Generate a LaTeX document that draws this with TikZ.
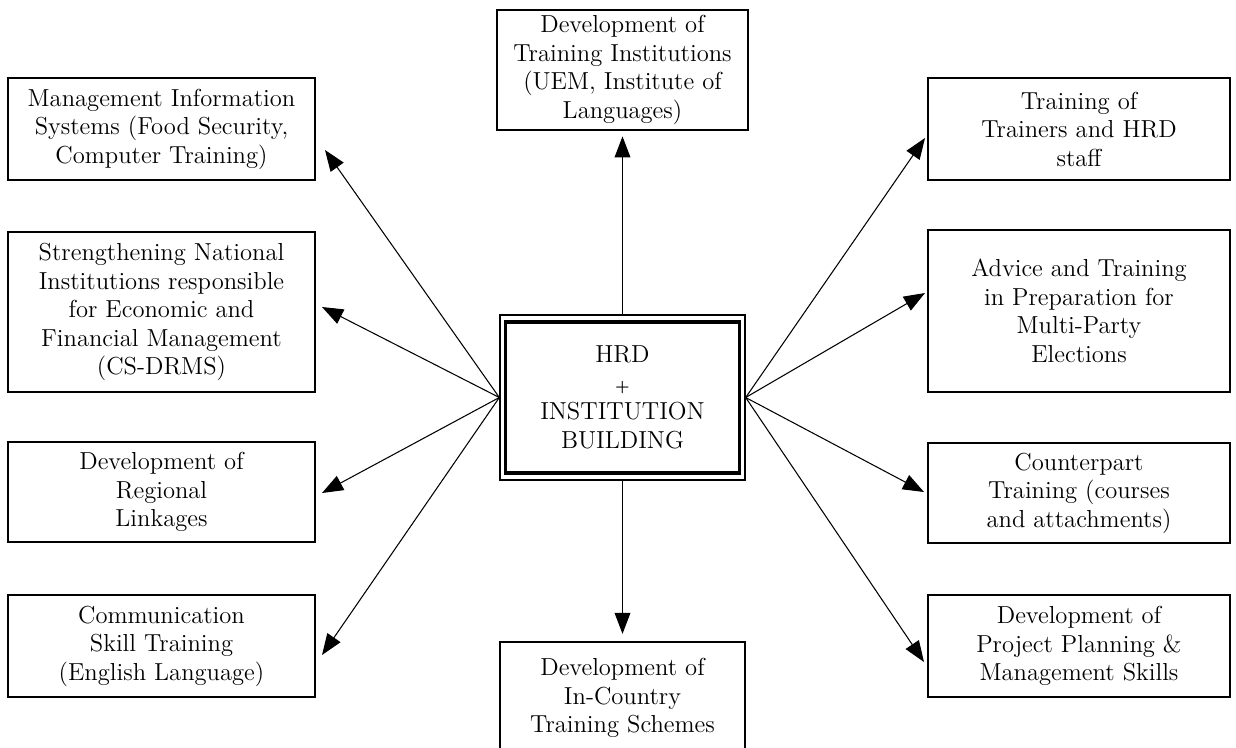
\documentclass[tikz,border=0pt]{standalone}
\usetikzlibrary{arrows.meta}
\tikzset{
  box/.style={draw, line width=1.3pt, align=center, inner sep=0pt,
    font=\fontsize{14}{16.2}\selectfont},
  link/.style={line width=0.6pt, -{Triangle[length=12pt,width=9pt]}}
}
\begin{document}
\begin{tikzpicture}[x=0.02cm, y=-0.02cm]
  \useasboundingbox (0,0) rectangle (1236,747);
  % centre box (double frame)
  \node[box, line width=0.8pt, minimum width=4.9cm, minimum height=3.3cm] (hrd) at (622.5,397.5) {};
  \node[box, line width=1.8pt, minimum width=4.68cm, minimum height=3.02cm] (hrdin) at (622.5,397.5)
    {HRD\\{\small\textbf{+}}\\INSTITUTION\\BUILDING};
  % top and bottom
  \node[box, minimum width=5.02cm, minimum height=2.4cm] (top) at (622.5,70)
    {Development of\\Training Institutions\\(UEM, Institute of\\Languages)};
  \node[box, minimum width=4.9cm, minimum height=2.24cm] (bottom) at (622.5,698)
    {Development of\\In-Country\\Training Schemes};
  % left column
  \node[box, minimum width=6.14cm, minimum height=2.04cm] (mis) at (161.5,129)
    {Management Information\\Systems (Food Security,\\Computer Training)};
  \node[box, minimum width=6.14cm, minimum height=3.2cm] (sni) at (161.5,312)
    {Strengthening National\\Institutions responsible\\for Economic and\\Financial Management\\(CS-DRMS)};
  \node[box, minimum width=6.14cm, minimum height=2.0cm] (reg) at (161.5,492)
    {Development of\\Regional\\Linkages};
  \node[box, minimum width=6.14cm, minimum height=2.04cm] (com) at (161.5,646)
    {Communication\\Skill Training\\(English Language)};
  % right column
  \node[box, minimum width=6.04cm, minimum height=2.04cm] (tot) at (1079,129)
    {Training of\\Trainers and HRD\\staff};
  \node[box, minimum width=6.04cm, minimum height=3.24cm] (adv) at (1079,311)
    {Advice and Training\\in Preparation for\\Multi-Party\\Elections};
  \node[box, minimum width=6.04cm, minimum height=2.0cm] (cpt) at (1079,493)
    {Counterpart\\Training (courses\\and attachments)};
  \node[box, minimum width=6.04cm, minimum height=2.04cm] (ppm) at (1079,646)
    {Development of\\Project Planning \&\\Management Skills};
  % arrow tips
  \coordinate (tmis) at (325,150);
  \coordinate (tsni) at (322,307);
  \coordinate (treg) at (322,493);
  \coordinate (tcom) at (322,655);
  \coordinate (ttot) at (925,138);
  \coordinate (tadv) at (925,293);
  \coordinate (tcpt) at (924,492);
  \coordinate (tppm) at (924,662);
  % arrows
  \draw[link, shorten >=3] (hrd.north) -- (top.south);
  \draw[link, shorten >=4] (hrd.south) -- (bottom.north);
  \foreach \t in {tmis,tsni,treg,tcom}
    \draw[link] (hrd.west) -- (\t);
  \foreach \t in {ttot,tadv,tcpt,tppm}
    \draw[link] (hrd.east) -- (\t);
\end{tikzpicture}
\end{document}
